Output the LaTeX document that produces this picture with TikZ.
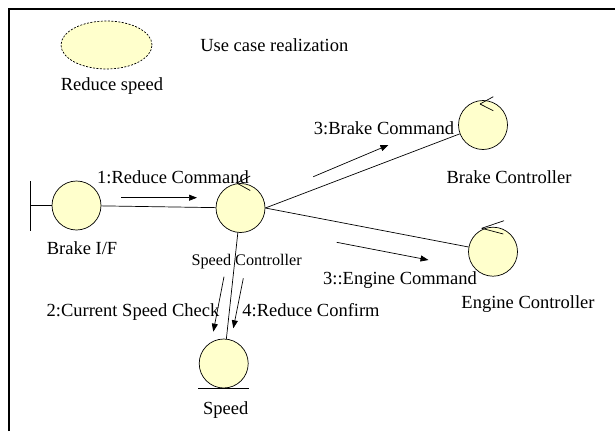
\documentclass[tikz,border=0pt]{standalone}
\usepackage{fontspec}
\setmainfont{Liberation Serif}
\usetikzlibrary{arrows.meta,shapes.geometric}
\definecolor{objfill}{RGB}{255,255,204}
\tikzset{
  every path/.style={line width=0.7pt},
  obj/.style={circle, draw, fill=objfill, minimum size=49pt, inner sep=0pt},
  lbl/.style={inner sep=0pt, font=\fontsize{18.5}{20}\selectfont},
  smalllbl/.style={inner sep=0pt, font=\fontsize{16.2}{18}\selectfont},
  link/.style={draw},
  msg/.style={draw, -{Triangle[length=8pt,width=6pt]}}
}
\begin{document}
\begin{tikzpicture}[x=1pt,y=-1pt]
\useasboundingbox (0,0) rectangle (615,431);

% frame
\draw[line width=2pt] (9,431) -- (9,9) -- (615,9);

% use case
\node[ellipse, draw, dash pattern=on 2pt off 1.5pt, fill=objfill, minimum width=91pt, minimum height=48pt, inner sep=0pt] (uc) at (106.5,45) {};
\node[lbl] (uclbl) at (112,86) {Reduce speed};
\node[lbl, anchor=west] (uctitle) at (200,45) {Use case realization};

% objects
\node[obj] (bif) at (76.5,205.5) {};
\node[obj] (sc) at (240.5,208) {};
\node[obj] (bc) at (483,125) {};
\node[obj] (ec) at (493,251.7) {};
\node[obj] (sp) at (223.7,363.5) {};

% boundary stereotype
\coordinate (bt) at (30.7,181);
\coordinate (bb) at (30.7,231);
\coordinate (bm) at (30.7,205.5);
\draw (bt) -- (bb);
\draw (bm) -- (bif.west);

% entity stereotype
\draw (sp.south) ++(-25.5,0) coordinate (el) -- ++(51,0) coordinate (er);

% control stereotypes
\coordinate (sca) at (236.7,183);
\draw (sca) -- ++(13.5,-7);
\draw (sca) -- ++(13.5,7.5);
\coordinate (bca) at (480,104);
\draw (bca) -- ++(13.3,-7.3);
\draw (bca) -- ++(13.3,6.7);
\coordinate (eca) at (481.7,228.3);
\draw (eca) -- ++(22.3,-7.6);
\draw (eca) -- ++(21.6,5.7);

% links
\draw[link] (bif) -- (sc);
\draw[link] (sc.east) -- (bc);
\draw[link] (sc.east) -- (ec);
\draw[link] (sc) -- (sp);

% labels
\node[lbl] (bifl) at (82,248) {Brake I/F};
\node[smalllbl] (scl) at (246.7,262) {Speed Controller};
\node[lbl] (bcl) at (509,177) {Brake Controller};
\node[lbl] (ecl) at (528,304) {Engine Controller};
\node[lbl] (spl) at (225.8,410.5) {Speed};

% messages
\node[lbl] (m1) at (173,177) {1:Reduce Command};
\coordinate (m1s) at (121,197.7);
\coordinate (m1e) at (197,197.7);
\draw[msg] (m1s) -- (m1e);

\node[lbl] (m3b) at (384,128) {3:Brake Command};
\coordinate (m3bs) at (313.3,176.7);
\coordinate (m3be) at (388.5,145);
\draw[msg] (m3bs) -- (m3be);

\node[lbl] (m3e) at (400,280) {3::Engine Command};
\coordinate (m3es) at (336.7,242.3);
\coordinate (m3ee) at (428.5,260);
\draw[msg] (m3es) -- (m3ee);

\node[lbl] (m2) at (133,312.5) {2:Current Speed Check};
\coordinate (m2s) at (224,276.7);
\coordinate (m2e) at (213.3,331.7);
\draw[msg] (m2s) -- (m2e);

\node[lbl] (m4) at (311,310) {4:Reduce Confirm};
\coordinate (m4s) at (243.3,278.3);
\coordinate (m4e) at (233.3,328.3);
\draw[msg] (m4s) -- (m4e);
\end{tikzpicture}
\end{document}
